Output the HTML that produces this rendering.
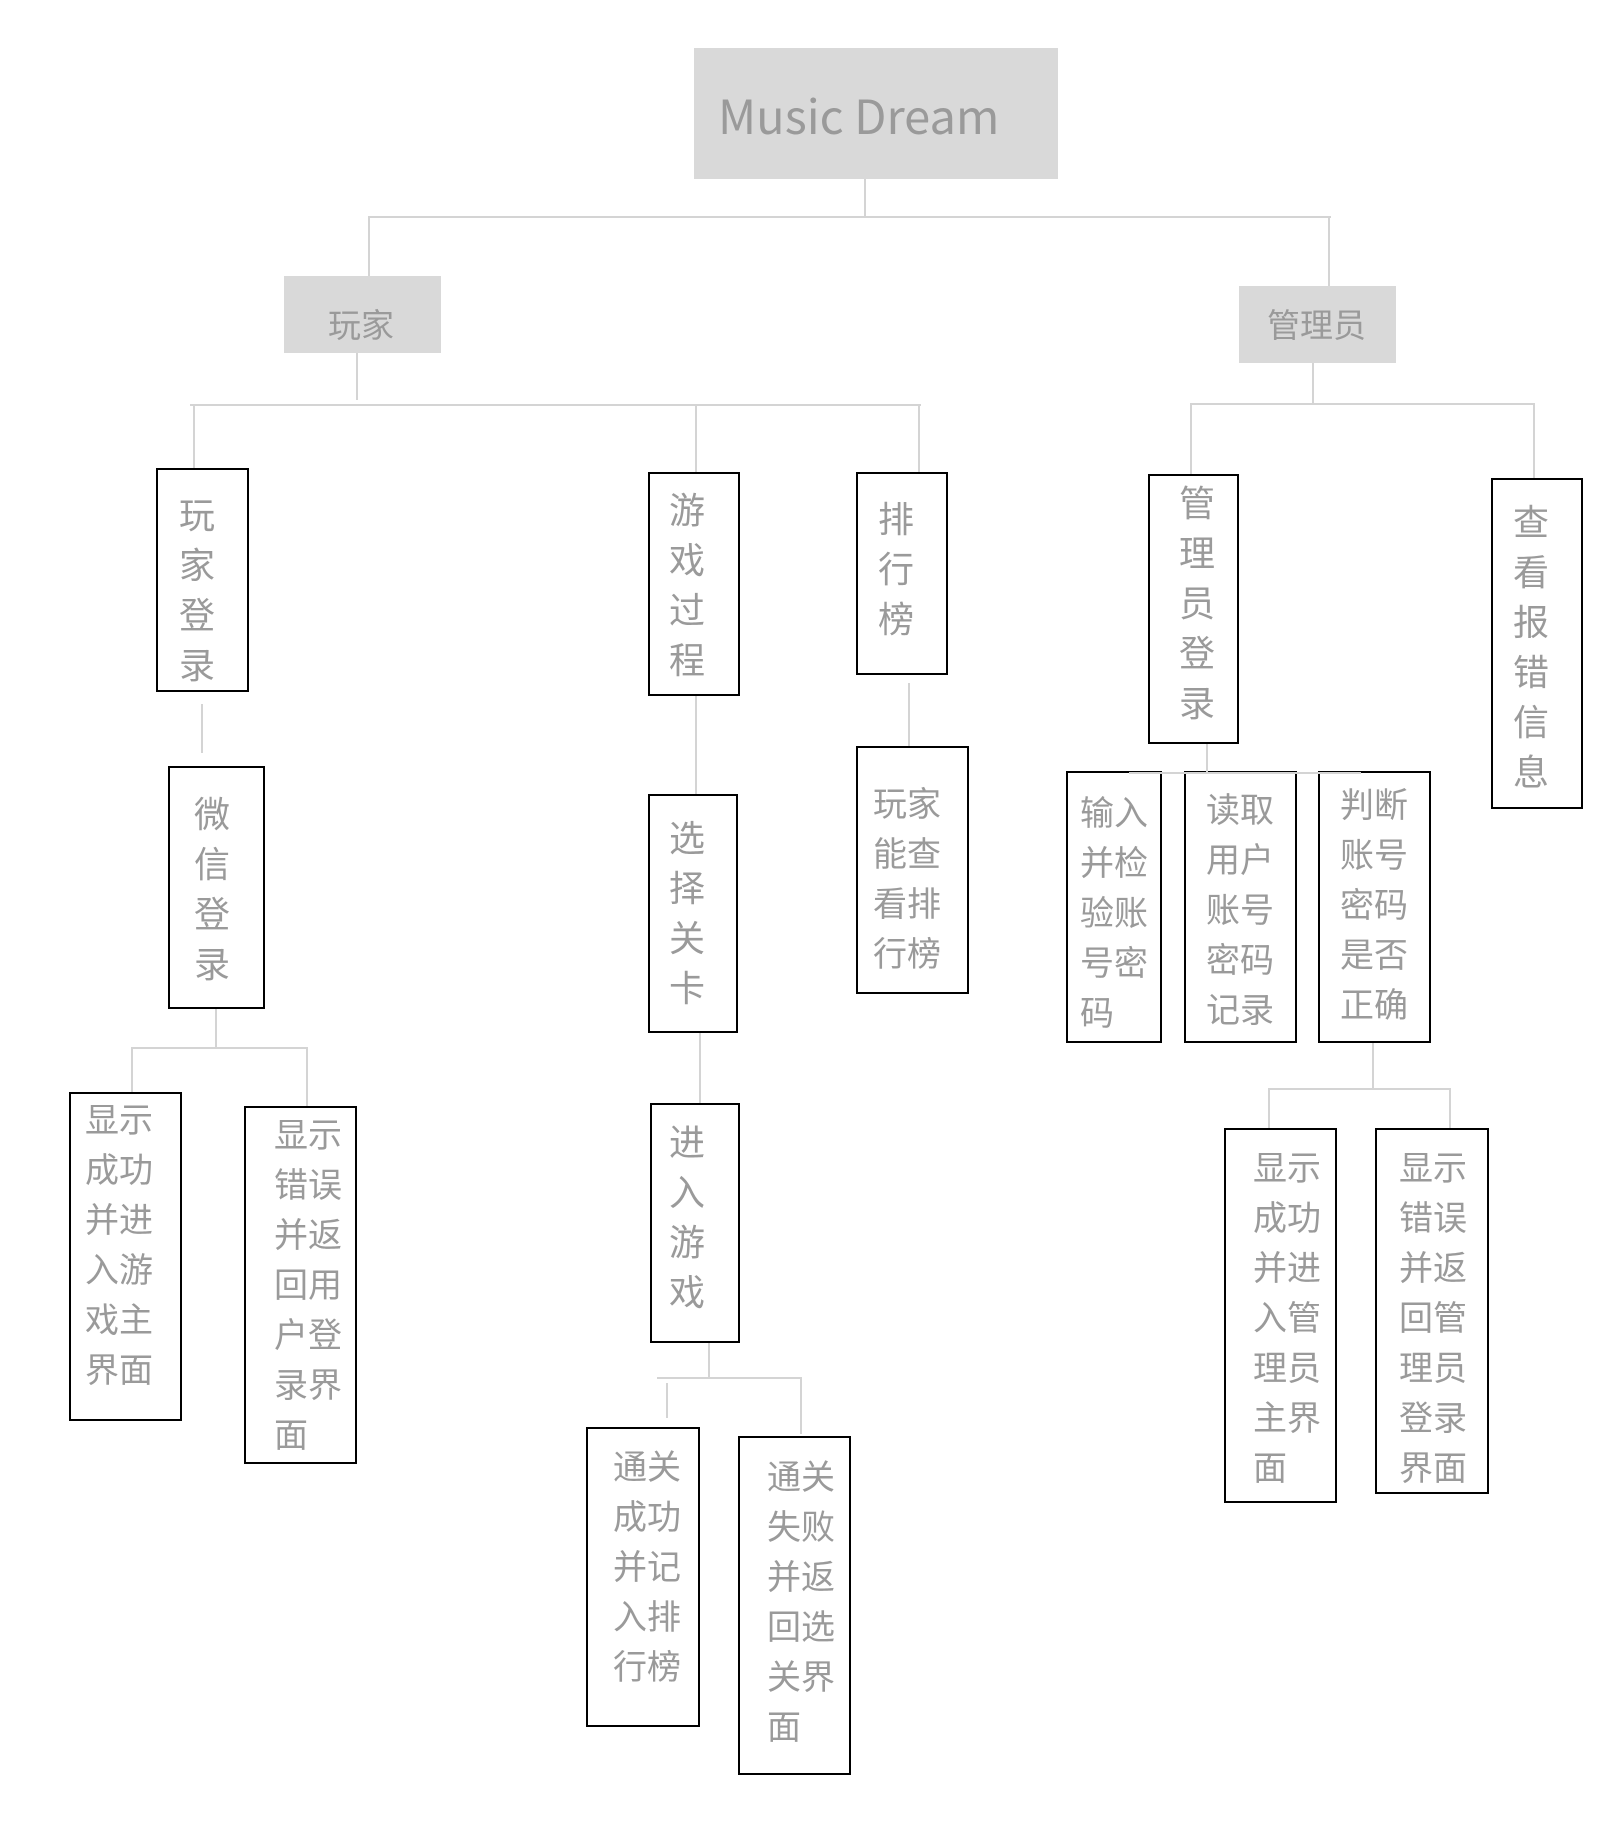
<!DOCTYPE html>
<html><head><meta charset="utf-8"><style>
body{margin:0;width:1616px;height:1832px;background:#fff;position:relative;overflow:hidden;font-family:"Noto Sans CJK SC","Liberation Sans",sans-serif;color:#9a9a9a}
.g{position:absolute;background:#d9d9d9}
.b{position:absolute;border:2px solid #000;box-sizing:border-box;background:#fff}
.h{position:absolute;height:2px;background:#d4d4d4}
.v{position:absolute;width:2px;background:#d4d4d4}
.t{position:absolute;font-size:36px;line-height:50px;white-space:nowrap}
.t2{position:absolute;font-size:34px;line-height:50px;white-space:nowrap}
</style></head><body>
<div class="g" style="left:694px;top:48px;width:364px;height:131px"></div>
<div class="t" style="left:718px;top:84px;font-size:47px;line-height:60px">Music Dream</div>
<div class="v" style="left:864px;top:179px;height:38px"></div>
<div class="h" style="left:369px;top:216px;width:962px"></div>
<div class="v" style="left:368px;top:216px;height:60px"></div>
<div class="v" style="left:1328px;top:216px;height:70px"></div>
<div class="g" style="left:284px;top:276px;width:157px;height:77px"></div>
<div class="t" style="left:328px;top:298px;font-size:33px">玩家</div>
<div class="g" style="left:1239px;top:286px;width:157px;height:77px"></div>
<div class="t" style="left:1267px;top:298px;font-size:33px">管理员</div>

<div class="v" style="left:356px;top:353px;height:47px"></div>
<div class="h" style="left:190px;top:404px;width:731px"></div>
<div class="v" style="left:193px;top:404px;height:64px"></div>
<div class="v" style="left:695px;top:404px;height:68px"></div>
<div class="v" style="left:918px;top:404px;height:68px"></div>

<div class="b" style="left:156px;top:468px;width:93px;height:224px"></div>
<div class="t" style="left:179px;top:488px">玩<br>家<br>登<br>录</div>
<div class="b" style="left:648px;top:472px;width:92px;height:224px"></div>
<div class="t" style="left:669px;top:483px">游<br>戏<br>过<br>程</div>
<div class="b" style="left:856px;top:472px;width:92px;height:203px"></div>
<div class="t" style="left:878px;top:492px">排<br>行<br>榜</div>

<div class="v" style="left:201px;top:704px;height:49px"></div>
<div class="b" style="left:168px;top:766px;width:97px;height:243px"></div>
<div class="t" style="left:194px;top:787px">微<br>信<br>登<br>录</div>
<div class="v" style="left:215px;top:1009px;height:39px"></div>
<div class="h" style="left:132px;top:1047px;width:176px"></div>
<div class="v" style="left:131px;top:1047px;height:45px"></div>
<div class="v" style="left:306px;top:1047px;height:59px"></div>
<div class="b" style="left:69px;top:1092px;width:113px;height:329px"></div>
<div class="t2" style="left:85px;top:1093px">显示<br>成功<br>并进<br>入游<br>戏主<br>界面</div>
<div class="b" style="left:244px;top:1106px;width:113px;height:358px"></div>
<div class="t2" style="left:274px;top:1108px">显示<br>错误<br>并返<br>回用<br>户登<br>录界<br>面</div>

<div class="v" style="left:695px;top:696px;height:104px"></div>
<div class="b" style="left:648px;top:794px;width:90px;height:239px"></div>
<div class="t" style="left:669px;top:811px">选<br>择<br>关<br>卡</div>
<div class="v" style="left:699px;top:1033px;height:70px"></div>
<div class="b" style="left:650px;top:1103px;width:90px;height:240px"></div>
<div class="t" style="left:669px;top:1115px">进<br>入<br>游<br>戏</div>
<div class="v" style="left:708px;top:1343px;height:35px"></div>
<div class="h" style="left:657px;top:1377px;width:145px"></div>
<div class="v" style="left:666px;top:1383px;height:35px"></div>
<div class="v" style="left:800px;top:1377px;height:57px"></div>
<div class="b" style="left:586px;top:1427px;width:114px;height:300px"></div>
<div class="t2" style="left:613px;top:1440px">通关<br>成功<br>并记<br>入排<br>行榜</div>
<div class="b" style="left:738px;top:1436px;width:113px;height:339px"></div>
<div class="t2" style="left:767px;top:1450px">通关<br>失败<br>并返<br>回选<br>关界<br>面</div>

<div class="v" style="left:908px;top:683px;height:76px"></div>
<div class="b" style="left:856px;top:746px;width:113px;height:248px"></div>
<div class="t2" style="left:873px;top:777px">玩家<br>能查<br>看排<br>行榜</div>

<div class="v" style="left:1312px;top:363px;height:41px"></div>
<div class="h" style="left:1191px;top:403px;width:344px"></div>
<div class="v" style="left:1190px;top:403px;height:72px"></div>
<div class="v" style="left:1533px;top:403px;height:76px"></div>
<div class="b" style="left:1148px;top:474px;width:91px;height:270px"></div>
<div class="t" style="left:1179px;top:476px">管<br>理<br>员<br>登<br>录</div>
<div class="b" style="left:1491px;top:478px;width:92px;height:331px"></div>
<div class="t" style="left:1513px;top:495px">查<br>看<br>报<br>错<br>信<br>息</div>

<div class="b" style="left:1066px;top:771px;width:96px;height:272px"></div>
<div class="t2" style="left:1080px;top:786px">输入<br>并检<br>验账<br>号密<br>码</div>
<div class="b" style="left:1184px;top:771px;width:113px;height:272px"></div>
<div class="t2" style="left:1206px;top:783px">读取<br>用户<br>账号<br>密码<br>记录</div>
<div class="b" style="left:1318px;top:771px;width:113px;height:272px"></div>
<div class="t2" style="left:1340px;top:778px">判断<br>账号<br>密码<br>是否<br>正确</div>
<div class="v" style="left:1206px;top:744px;height:29px"></div>
<div class="h" style="left:1129px;top:772px;width:232px"></div>

<div class="v" style="left:1372px;top:1043px;height:46px"></div>
<div class="h" style="left:1269px;top:1088px;width:182px"></div>
<div class="v" style="left:1268px;top:1088px;height:40px"></div>
<div class="v" style="left:1449px;top:1088px;height:40px"></div>
<div class="b" style="left:1224px;top:1128px;width:113px;height:375px"></div>
<div class="t2" style="left:1253px;top:1141px">显示<br>成功<br>并进<br>入管<br>理员<br>主界<br>面</div>
<div class="b" style="left:1375px;top:1128px;width:114px;height:366px"></div>
<div class="t2" style="left:1399px;top:1141px">显示<br>错误<br>并返<br>回管<br>理员<br>登录<br>界面</div>
</body></html>
